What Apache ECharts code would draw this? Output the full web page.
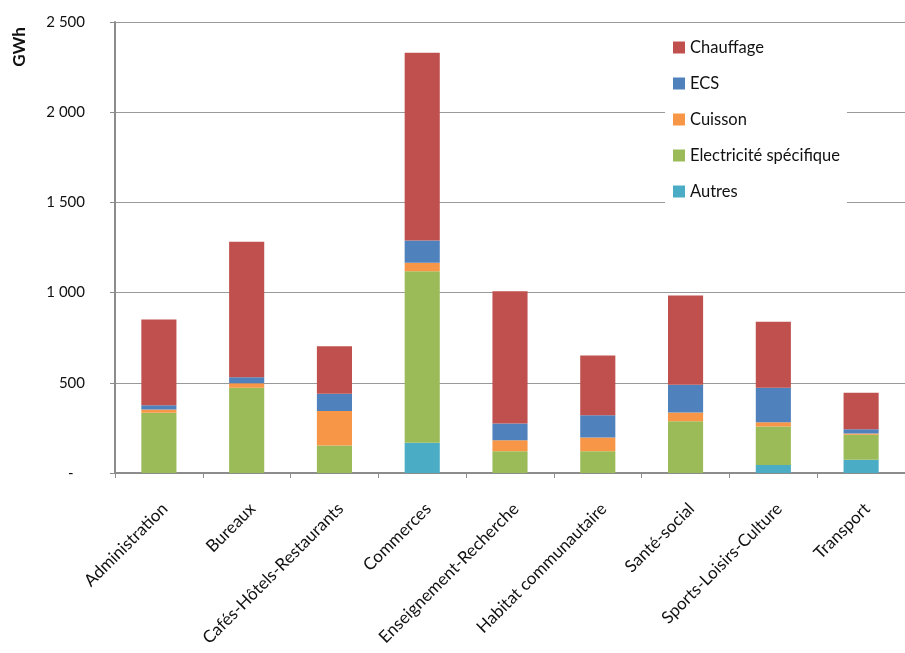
<!DOCTYPE html>
<html>
<head>
<meta charset="utf-8">
<script src="https://cdn.jsdelivr.net/npm/echarts@6/dist/echarts.min.js"></script>
<style>html,body{margin:0;padding:0;background:#fff}#c{width:905px;height:653px}</style>
</head>
<body>
<div id="c"></div>
<script>
const categories = ['Administration','Bureaux','Cafés-Hôtels-Restaurants','Commerces','Enseignement-Recherche','Habitat communautaire','Santé-social','Sports-Loisirs-Culture','Transport'];
const autres      = [0, 0, 0, 167, 0, 0, 0, 45, 73];
const electricite = [334, 472, 152, 952, 121, 121, 287, 213, 139];
const cuisson     = [18, 26, 191, 46, 61, 76, 48, 24, 7];
const ecs         = [24, 33, 96, 124, 92, 123, 154, 190, 24];
const chauffage   = [475, 751, 264, 1040, 734, 331, 495, 366, 202];
const yTicks = { min: 0, max: 2500, step: 500 };

const font = 'Lato, "Open Sans", sans-serif';
function fmt(v){ if (v === 0) return '-   '; const s = String(v); return s.length > 3 ? s.slice(0, s.length-3) + ' ' + s.slice(-3) : s; }
function ser(name, data, color){
  return { name, type:'bar', stack:'total', data, barWidth:'40%', itemStyle:{color}, emphasis:{disabled:true} };
}
const chart = echarts.init(document.getElementById('c'), null, {renderer:'canvas'});
chart.setOption({
  animation:false,
  backgroundColor:'#fff',
  grid:{ left:115, top:22, bottom:180, right:-11, containLabel:false },
  graphic:[{
    type:'text', x:20, y:47, rotation:Math.PI/2,
    style:{ text:'GWh', font:'bold 17px ' + font, fill:'#111', textAlign:'center', textVerticalAlign:'middle' }
  }],
  legend:{
    orient:'vertical', left:665, top:25,
    data:['Chauffage','ECS','Cuisson','Electricité spécifique','Autres'],
    backgroundColor:'#fff', padding:[14,7,10,8],
    itemWidth:12, itemHeight:12, itemGap:19, icon:'rect',
    textStyle:{ fontFamily:font, fontSize:16.5, color:'#111' }
  },
  xAxis:{
    type:'category', data:categories,
    axisLine:{ lineStyle:{ color:'#8c8c8c', width:2 } },
    axisTick:{ show:true, length:5, lineStyle:{ color:'#8c8c8c' } },
    axisLabel:{ rotate:45, interval:0, margin:27, verticalAlign:'top', fontFamily:font, fontSize:17, color:'#111' }
  },
  yAxis:{
    type:'value', min:yTicks.min, max:yTicks.max, interval:yTicks.step,
    axisLine:{ show:true, lineStyle:{ color:'#8c8c8c', width:2 } },
    axisTick:{ show:true, length:5, lineStyle:{ color:'#8c8c8c' } },
    splitLine:{ lineStyle:{ color:'#999', width:1 } },
    axisLabel:{ formatter:fmt, margin:30, fontFamily:font, fontSize:15, color:'#111' }
  },
  series:[
    ser('Autres', autres, '#4BACC6'),
    ser('Electricité spécifique', electricite, '#9BBB59'),
    ser('Cuisson', cuisson, '#F79646'),
    ser('ECS', ecs, '#4F81BD'),
    ser('Chauffage', chauffage, '#C0504D')
  ]
});
</script>
</body>
</html>
